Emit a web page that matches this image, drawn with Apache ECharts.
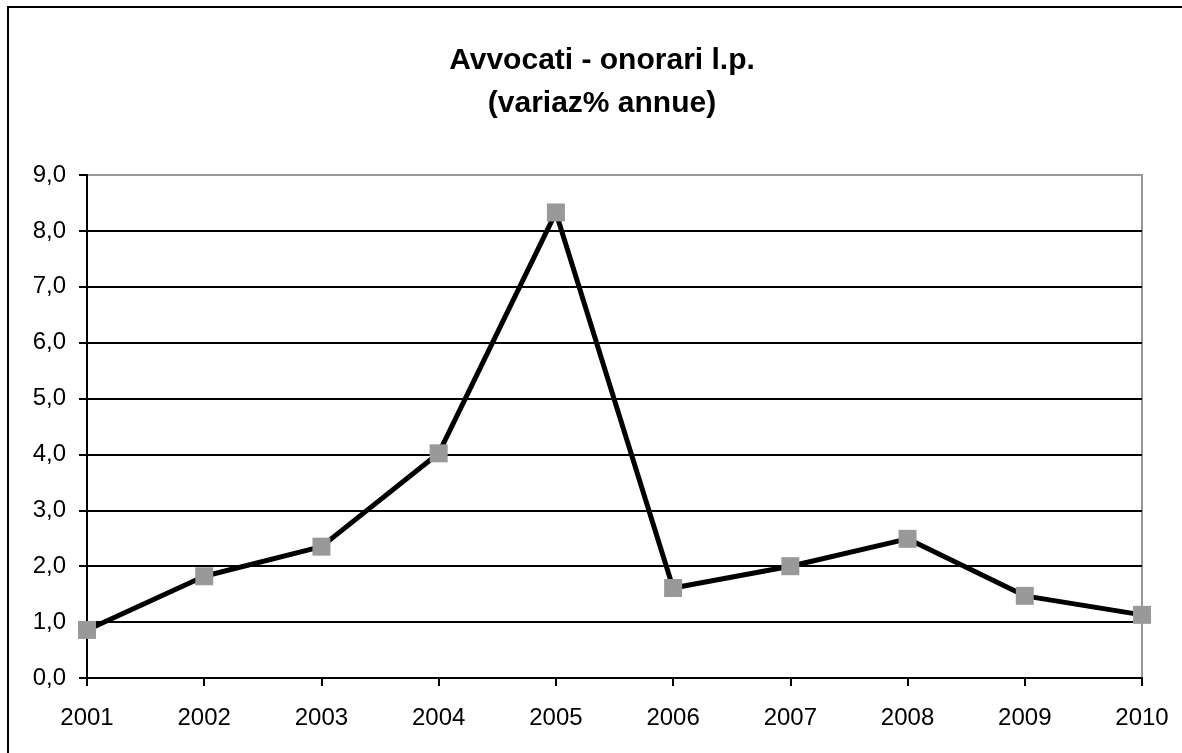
<!DOCTYPE html>
<html>
<head>
<meta charset="utf-8">
<script src="https://cdn.jsdelivr.net/npm/echarts@6/dist/echarts.min.js"></script>
<style>
  html, body { margin: 0; padding: 0; background: #fff; }
  #chart { width: 1182px; height: 753px; }
</style>
</head>
<body>
<div id="chart"></div>
<script>
// anni e variazioni %
var years = ['2001', '2002', '2003', '2004', '2005', '2006', '2007', '2008', '2009', '2010'];
var variaz = [0.86, 1.82, 2.35, 4.02, 8.33, 1.61, 2.00, 2.49, 1.47, 1.13];
var titleLines = ['Avvocati - onorari l.p.', '(variaz% annue)'];

var font = 'Arial, "Liberation Sans", sans-serif';

var option = {
  animation: false,
  backgroundColor: '#fff',
  title: {
    text: titleLines.join('\n'),
    left: 597,
    top: 34,
    textAlign: 'center',
    textStyle: { fontFamily: font, fontSize: 30, fontWeight: 'bold', color: '#000', lineHeight: 43 }
  },
  graphic: [{
    type: 'rect',
    shape: { x: 8, y: 7, width: 1200, height: 800 },
    style: { fill: null, stroke: '#000', lineWidth: 2 },
    silent: true
  }],
  grid: {
    left: 87, right: 40, top: 175, bottom: 75,
    show: true, borderColor: '#999', borderWidth: 2, backgroundColor: 'transparent'
  },
  xAxis: {
    type: 'category',
    data: years,
    boundaryGap: false,
    axisLine: { lineStyle: { color: '#000', width: 2 } },
    axisTick: { show: true, length: 8, alignWithLabel: true, lineStyle: { color: '#000', width: 2 } },
    axisLabel: { fontFamily: font, fontSize: 24, color: '#000', margin: 28 },
    splitLine: { show: false }
  },
  yAxis: {
    type: 'value',
    min: 0, max: 9, interval: 1,
    axisLine: { show: true, lineStyle: { color: '#000', width: 2 } },
    axisTick: { show: true, length: 8, lineStyle: { color: '#000', width: 2 } },
    axisLabel: {
      fontFamily: font, fontSize: 24, color: '#000', margin: 21,
      formatter: function (v) { return v.toFixed(1).replace('.', ','); }
    },
    splitLine: {
      show: true,
      lineStyle: { color: ['#000', '#000', '#000', '#000', '#000', '#000', '#000', '#000', '#000', '#999'], width: 2 }
    }
  },
  series: [{
    type: 'line',
    data: variaz,
    symbol: 'rect',
    symbolSize: 18,
    lineStyle: { color: '#000', width: 5 },
    itemStyle: { color: '#999' },
    z: 5
  }]
};

var myChart = echarts.init(document.getElementById('chart'));
myChart.setOption(option);
</script>
</body>
</html>
